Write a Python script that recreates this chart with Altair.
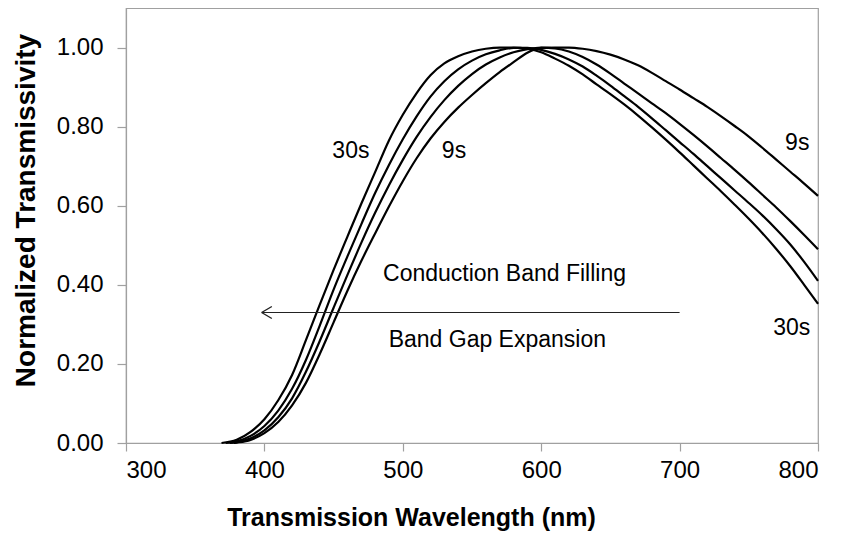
import altair as alt
import pandas as pd

# ---- data ----
SERIES = ["30s", "mid-a", "mid-b", "9s"]
ONSET_NM = [369, 372, 375, 378]          # where each curve leaves 0
WAVELENGTH = list(range(380, 801, 10))

T_30S = [0.008, 0.028, 0.06, 0.108, 0.172, 0.26, 0.35, 0.438, 0.522, 0.605,
         0.685, 0.765, 0.83, 0.885, 0.93, 0.96, 0.978, 0.99, 0.997, 1.0,
         1.0, 0.997, 0.988, 0.972, 0.954, 0.932, 0.907, 0.882, 0.856, 0.828,
         0.798, 0.767, 0.735, 0.702, 0.669, 0.636, 0.602, 0.567, 0.53, 0.49,
         0.447, 0.40, 0.352]
T_MID_A = [0.004, 0.018, 0.043, 0.082, 0.137, 0.21, 0.297, 0.388, 0.472, 0.553,
           0.632, 0.703, 0.768, 0.826, 0.876, 0.915, 0.945, 0.967, 0.983, 0.993,
           0.999, 0.999, 0.994, 0.984, 0.97, 0.952, 0.929, 0.904, 0.877, 0.85,
           0.821, 0.791, 0.761, 0.731, 0.70, 0.669, 0.638, 0.607, 0.575, 0.54,
           0.502, 0.458, 0.41]
T_MID_B = [0.002, 0.012, 0.032, 0.065, 0.113, 0.18, 0.258, 0.342, 0.425, 0.506,
           0.582, 0.652, 0.716, 0.774, 0.824, 0.867, 0.903, 0.933, 0.957, 0.975,
           0.988, 0.996, 1.0, 0.998, 0.99, 0.976, 0.957, 0.934, 0.909, 0.884,
           0.859, 0.834, 0.807, 0.779, 0.75, 0.72, 0.69, 0.659, 0.627, 0.595,
           0.561, 0.526, 0.49]
T_9S = [0.001, 0.008, 0.025, 0.053, 0.095, 0.152, 0.225, 0.305, 0.385, 0.46,
        0.53, 0.598, 0.662, 0.72, 0.77, 0.812, 0.848, 0.88, 0.91, 0.938,
        0.963, 0.987, 0.999, 1.0, 1.0, 0.997, 0.991, 0.982, 0.97, 0.955,
        0.936, 0.915, 0.894, 0.872, 0.85, 0.826, 0.801, 0.775, 0.746, 0.716,
        0.686, 0.656, 0.625]
VALUES = [T_30S, T_MID_A, T_MID_B, T_9S]

LABEL_TEXT = ["30s", "9s", "9s", "30s", "Conduction Band Filling", "Band Gap Expansion"]
LABEL_NM = [462.5, 537.0, 785.0, 781.0, 573.5, 568.3]
LABEL_T = [0.738, 0.738, 0.759, 0.292, 0.427, 0.26]

ARROW_FROM_NM = 700
ARROW_TO_NM = 398
ARROW_T = 0.33

X_TICKS = [300, 400, 500, 600, 700, 800]
Y_TICKS = [0.0, 0.2, 0.4, 0.6, 0.8, 1.0]

# ---- build tables ----
rows = []
for name, onset, vals in zip(SERIES, ONSET_NM, VALUES):
    rows.append({"series": name, "wl": onset, "t": 0.0})
    for w, v in zip(WAVELENGTH, vals):
        rows.append({"series": name, "wl": w, "t": v})
curves = pd.DataFrame(rows)
labels = pd.DataFrame({"text": LABEL_TEXT, "wl": LABEL_NM, "t": LABEL_T})
arrow = pd.DataFrame({"wl": [ARROW_FROM_NM], "wl2": [ARROW_TO_NM], "t": [ARROW_T]})
tip = pd.DataFrame({"wl": [ARROW_TO_NM], "t": [ARROW_T]})

FONT = "Liberation Sans"
GRAY = "#a0a0a0"

xscale = alt.Scale(domain=[300, 800], nice=False, zero=False)
yscale = alt.Scale(domain=[0, 1.1], nice=False)

lines = alt.Chart(curves).mark_line(color="black", strokeWidth=2.2,
                                    interpolate="monotone").encode(
    x=alt.X("wl:Q", scale=xscale,
            axis=alt.Axis(values=X_TICKS, title="Transmission Wavelength (nm)",
                          labelPadding=7, tickSize=8, titleFontSize=25,
                          titleX=285, titleY=74, titleAlign="center",
                          titleBaseline="middle")),
    y=alt.Y("t:Q", scale=yscale,
            axis=alt.Axis(values=Y_TICKS, format=".2f", title="Normalized Transmissivity",
                          labelPadding=14, tickSize=9, titleFontSize=28,
                          titleX=-100, titleY=202, titleAlign="center",
                          titleBaseline="middle", titleAngle=270)),
    detail="series:N",
    order="wl:Q",
)

text = alt.Chart(labels).mark_text(font=FONT, fontSize=23, color="black",
                                   align="center", baseline="middle").encode(
    x=alt.X("wl:Q", scale=xscale), y=alt.Y("t:Q", scale=yscale), text="text:N")

shaft = alt.Chart(arrow).mark_rule(color="#222222", strokeWidth=1.2).encode(
    x=alt.X("wl:Q", scale=xscale), x2="wl2:Q", y=alt.Y("t:Q", scale=yscale))

head = alt.Chart(tip).mark_point(shape="M0,0L1.7,-1M0,0L1.7,1", size=144, filled=False,
                                 color="#222222", strokeWidth=1.4, opacity=1).encode(
    x=alt.X("wl:Q", scale=xscale), y=alt.Y("t:Q", scale=yscale))

chart = alt.layer(lines, shaft, head, text).properties(
    width=692, height=435,
    autosize=alt.AutoSizeParams(type="none"),
    padding={"left": 118, "top": 0, "right": 18, "bottom": 96},
).configure_view(stroke=GRAY, strokeWidth=1.2).configure_axis(
    grid=False, domainColor=GRAY, tickColor=GRAY, domainWidth=1.2, tickWidth=1.2,
    labelFont=FONT, labelFontSize=24, labelColor="black",
    titleFont=FONT, titleFontWeight="bold", titleColor="black",
)

chart.save("out.html", embed_options={"renderer": "svg", "actions": False})
